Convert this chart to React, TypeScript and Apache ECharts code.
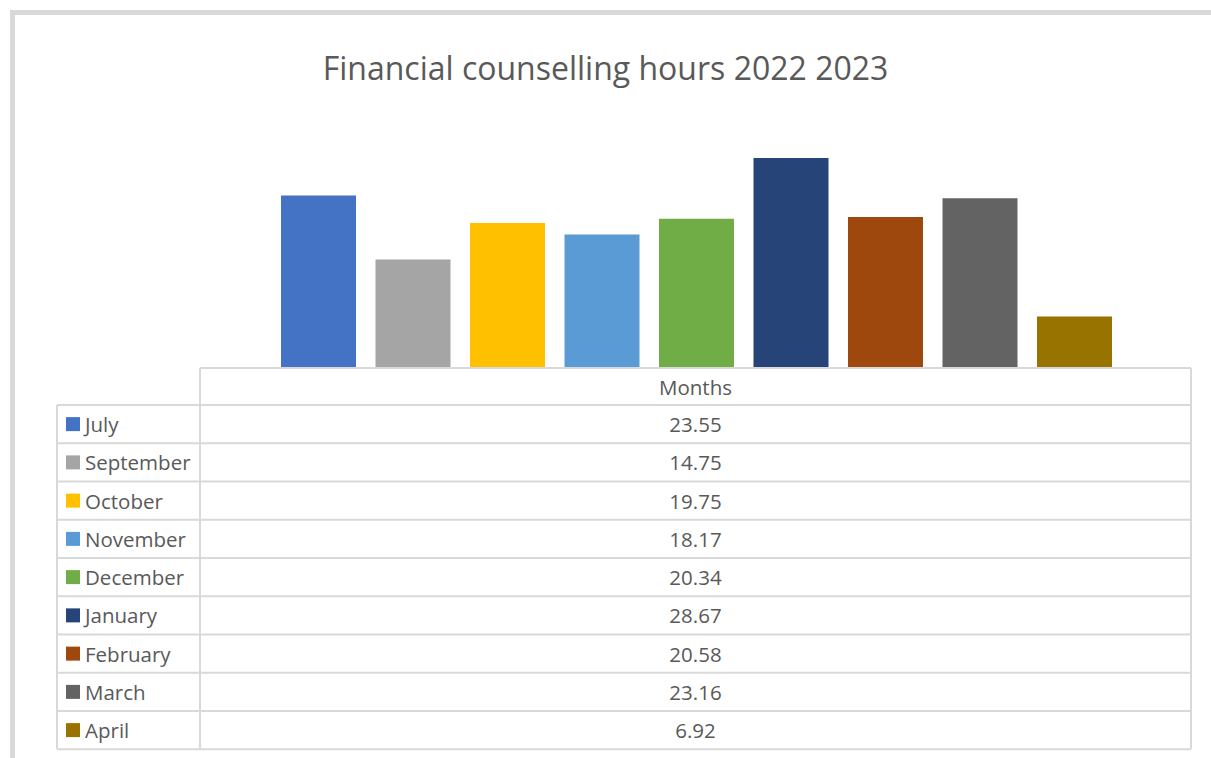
import React, { useEffect, useRef } from "react";
import * as echarts from "echarts";

const title = "Financial counselling hours 2022 2023";
const categoryLabel = "Months";
const months = ["July", "September", "October", "November", "December", "January", "February", "March", "April"];
const hours = [23.55, 14.75, 19.75, 18.17, 20.34, 28.67, 20.58, 23.16, 6.92];
const colors = ["#4472C4", "#A5A5A5", "#FFC000", "#5B9BD5", "#70AD47", "#264478", "#9E480E", "#636363", "#997300"];

const FONT = "'Open Sans', sans-serif";
const TEXT = "#595959";
const LINE = "#d9d9d9";

export default function App() {
  const ref = useRef<HTMLDivElement>(null);
  useEffect(() => {
    if (!ref.current) return;
    const chart = echarts.init(ref.current, null, { renderer: "svg" });

    const tLeft = 57, tDiv = 200, tRight = 1191, headTop = 368, rowTop = 405, rowH = 38.25;
    const n = months.length;
    const tBottom = rowTop + rowH * n;
    const ls = { stroke: LINE, lineWidth: 2 };
    const g: any[] = [];
    // outer frame
    g.push({ type: "rect", shape: { x: 12.5, y: 12.5, width: 1300, height: 900 }, style: { fill: "none", stroke: LINE, lineWidth: 5 }, silent: true });
    // table lines
    g.push({ type: "line", shape: { x1: tDiv, y1: headTop, x2: tRight, y2: headTop }, style: ls });
    for (let i = 0; i <= n; i++) {
      const y = rowTop + rowH * i;
      g.push({ type: "line", shape: { x1: tLeft, y1: y, x2: tRight, y2: y }, style: ls });
    }
    g.push({ type: "line", shape: { x1: tLeft, y1: rowTop, x2: tLeft, y2: tBottom }, style: ls });
    g.push({ type: "line", shape: { x1: tDiv, y1: headTop, x2: tDiv, y2: tBottom }, style: ls });
    g.push({ type: "line", shape: { x1: tRight, y1: headTop, x2: tRight, y2: tBottom }, style: ls });
    const midX = (tDiv + tRight) / 2;
    const tf = `20.5px ${FONT}`;
    g.push({ type: "text", x: midX, y: (headTop + rowTop) / 2, style: { text: categoryLabel, fill: TEXT, font: tf, textAlign: "center", textVerticalAlign: "middle" } });
    months.forEach((m, i) => {
      const cy = rowTop + rowH * i + rowH / 2;
      g.push({ type: "rect", shape: { x: 66, y: cy - 7, width: 14, height: 14 }, style: { fill: colors[i] } });
      g.push({ type: "text", x: 85, y: cy, style: { text: m, fill: TEXT, font: tf, textAlign: "left", textVerticalAlign: "middle" } });
      g.push({ type: "text", x: midX, y: cy, style: { text: String(hours[i]), fill: TEXT, font: tf, textAlign: "center", textVerticalAlign: "middle" } });
    });

    chart.setOption({
      animation: false,
      title: {
        text: title,
        left: "center",
        top: 46,
        textStyle: { fontFamily: FONT, fontSize: 32, fontWeight: "normal", color: TEXT },
      },
      grid: { left: tDiv + 1, right: 1211 - tRight - 1, top: 112, bottom: 758 - 367 },
      xAxis: { type: "category", data: [categoryLabel], show: false },
      yAxis: { type: "value", min: 0, max: 35, show: false, splitLine: { show: false } },
      series: months.map((m, i) => ({
        name: m,
        type: "bar",
        data: [hours[i]],
        barWidth: 75,
        barGap: "26%",
        itemStyle: { color: colors[i] },
      })),
      graphic: g,
    });
    return () => chart.dispose();
  }, []);
  return <div ref={ref} style={{ position: "fixed", left: 0, top: 0, width: 1211, height: 758, background: "#fff" }} />;
}
